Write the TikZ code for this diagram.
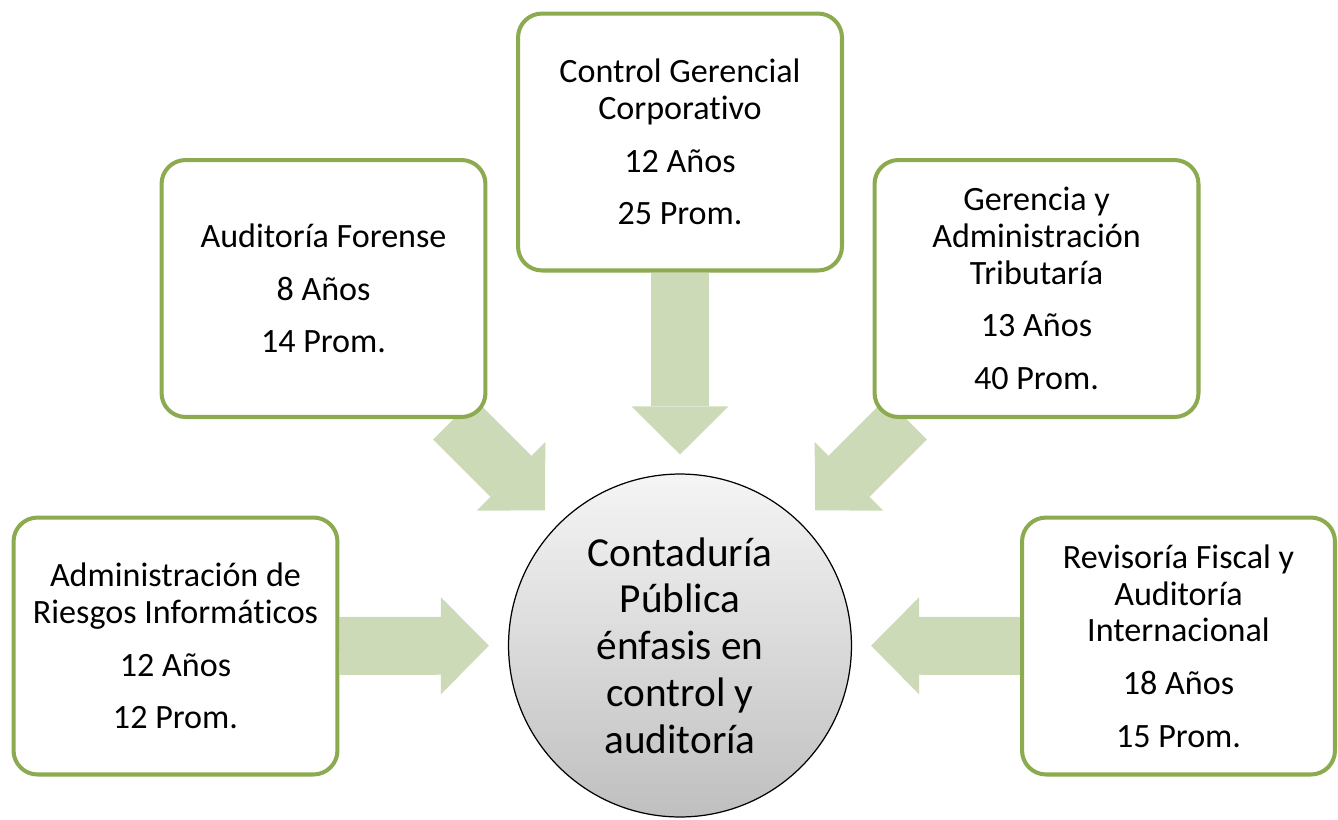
\documentclass[tikz,border=0pt]{standalone}
\usepackage{fontspec}
\setmainfont{Carlito}[Ligatures = {TeX, NoCommon}]
\usetikzlibrary{arrows.meta,backgrounds}
\definecolor{leafgreen}{HTML}{8CAA50}
\definecolor{feedgreen}{HTML}{CDDAB7}
\newcommand{\boxwidth}{6.48cm}
\newcommand{\boxheight}{5.14cm}
\newcommand{\pgap}{9pt}
\tikzset{
    area/.style = { draw = leafgreen, line width = 2.3pt, fill = white,
        rectangle, rounded corners = 4.8mm, align = center,
        font = \fontsize{19.4}{21}\selectfont,
        minimum width = \boxwidth,
        minimum height = \boxheight,
        inner sep = 0pt
    },
    hub/.style = { draw, circle, line width = 0.7pt,
        top color = black!4, bottom color = black!25,
        minimum size = 6.86cm, inner sep = 0pt, align = center,
        font = \fontsize{23.5}{26.6}\selectfont
    },
    feed/.style = { draw = feedgreen, line width = 1.16cm,
        -{Triangle[length = 0.96cm, width = 1.94cm, line width = 0pt]},
        shorten > = 0.38cm
    }
}

\begin{document}
\begin{tikzpicture}[x = 0.02cm, y = -0.02cm]
        \useasboundingbox (0,0) rectangle (1338,819);

        % centre...
        \node[hub] (hub) at (680,645.5) {Contaduría\\ Pública\\ énfasis en\\ control y\\ auditoría};

        % upper row...
        \node[area] (control) at (680,142) {Control Gerencial\\ Corporativo\\[\pgap] 12 Años\\[\pgap] 25 Prom.};
        \node[area] (forense) at (323.5,288.5) {Auditoría Forense\\[\pgap] 8 Años\\[\pgap] 14 Prom.};
        \node[area] (gerencia) at (1036.5,288.5) {Gerencia y\\ Administración\\ Tributaría\\[\pgap] 13 Años\\[\pgap] 40 Prom.};

        % lower row...
        \node[area] (riesgos) at (175.5,646) {Administración de\\ Riesgos Informáticos\\[\pgap] 12 Años\\[\pgap] 12 Prom.};
        \node[area, minimum width = 6.26cm] (revisoria) at (1178.5,646) {Revisoría Fiscal y\\ Auditoría\\ Internacional\\[\pgap] 18 Años\\[\pgap] 15 Prom.};

        % arrows...
        \begin{scope}[on background layer]
            \draw[feed] (control) -- (hub);
            \draw[feed] (forense) -- (hub);
            \draw[feed] (gerencia) -- (hub);
            \draw[feed] (riesgos) -- (hub);
            \draw[feed] (revisoria) -- (hub);
        \end{scope}

\end{tikzpicture}
\end{document}
